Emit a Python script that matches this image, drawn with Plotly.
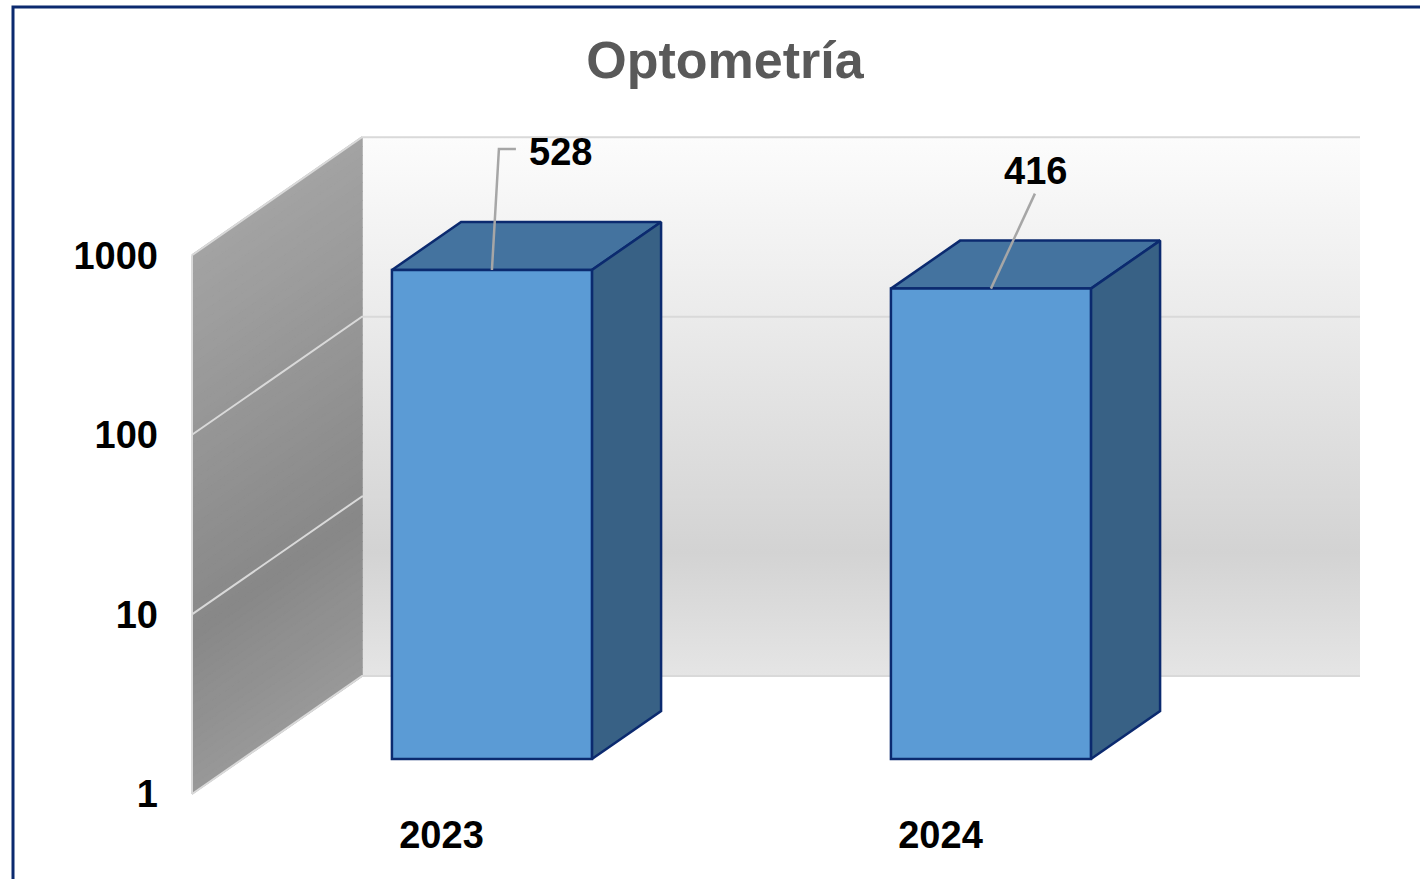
import math
import plotly.graph_objects as go
from plotly.colors import sample_colorscale

# Data
CATEGORIES = ["2023", "2024"]
VALUES = [528, 416]
Y_TICKS = [1, 10, 100, 1000]
TITLE = "Optometría"

# Fake 3D geometry, all in pixels of the 1420x879 page
WIDTH, HEIGHT = 1420, 879
CATEGORY_PX = 499
DECADE_PX = 179.6
DEPTH_X = 170
DEPTH_Y = 118
ORIGIN_X = 441.5  # first category on the front plane
ORIGIN_Y = 794  # value 1 on the front plane
BAR_FRONT = 35 / 118
BAR_BACK = 83 / 118
BAR_WIDTH = 200 / CATEGORY_PX

NAVY = "#0B2A6F"
BAR_COLOR = "#5B9BD5"
TOP_COLOR = "#44739F"
SIDE_COLOR = "#386185"
GRID_COLOR = "#D9D9D9"
LEADER_COLOR = "#A6A6A6"
FONT = "Liberation Sans"


def project(i, value, depth):
    # Push a data point back into the chart, depth 0 = front, 1 = back wall
    return (
        i + depth * DEPTH_X / CATEGORY_PX,
        value * 10 ** (depth * DEPTH_Y / DECADE_PX),
    )


def polygon(points, **kwargs):
    return go.Scatter(
        x=[p[0] for p in points],
        y=[p[1] for p in points],
        mode="lines",
        hoverinfo="skip",
        showlegend=False,
        **kwargs,
    )


def x_range(origin):
    return [-origin / CATEGORY_PX, (WIDTH - origin) / CATEGORY_PX]


def y_range(origin):
    return [(origin - HEIGHT) / DECADE_PX, origin / DECADE_PX]


fig = go.Figure()

left, right = -0.5, len(CATEGORIES) - 0.5
low, high = Y_TICKS[0], Y_TICKS[-1]

# Back wall
fig.add_trace(polygon(
    [project(left, low, 1), project(right, low, 1), project(right, high, 1), project(left, high, 1)],
    fill="toself",
    fillgradient=dict(
        type="vertical",
        colorscale=[[0, "#E5E5E5"], [0.23, "#D3D3D3"], [0.67, "#EBEBEB"], [1, "#FCFCFC"]],
    ),
    line=dict(width=0),
))

# Left wall, stacked bands to get the shaded look
WALL_SCALE = [[0, "#989898"], [0.3, "#888888"], [1, "#A3A3A3"]]
N_BANDS = 60
wall_top = math.log10(high)
band_colors = sample_colorscale(WALL_SCALE, [(k + 0.5) / N_BANDS for k in range(N_BANDS)])
for k in range(N_BANDS):
    v0 = 10 ** (wall_top * k / N_BANDS)
    v1 = 10 ** (wall_top * (k + 1) / N_BANDS)
    fig.add_trace(polygon(
        [project(left, v0, 0), project(left, v0, 1), project(left, v1, 1), project(left, v1, 0)],
        fill="toself",
        fillcolor=band_colors[k],
        line=dict(width=1.5, color=band_colors[k]),
    ))

# Grid lines running along both walls
for tick in Y_TICKS:
    fig.add_trace(polygon(
        [project(left, tick, 0), project(left, tick, 1), project(right, tick, 1)],
        line=dict(width=2, color=GRID_COLOR),
    ))
fig.add_trace(polygon(
    [project(left, low, 0), project(left, high, 0)],
    line=dict(width=2, color=GRID_COLOR),
))

# Top and side faces of the bars
for i, value in enumerate(VALUES):
    x0, x1 = i - BAR_WIDTH / 2, i + BAR_WIDTH / 2
    fig.add_trace(polygon(
        [project(x0, value, BAR_FRONT), project(x1, value, BAR_FRONT),
         project(x1, value, BAR_BACK), project(x0, value, BAR_BACK), project(x0, value, BAR_FRONT)],
        fill="toself",
        fillcolor=TOP_COLOR,
        line=dict(width=2.5, color=NAVY),
    ))
    fig.add_trace(polygon(
        [project(x1, low, BAR_FRONT), project(x1, low, BAR_BACK),
         project(x1, value, BAR_BACK), project(x1, value, BAR_FRONT), project(x1, low, BAR_FRONT)],
        fill="toself",
        fillcolor=SIDE_COLOR,
        line=dict(width=2.5, color=NAVY),
    ))

# Front faces. On a log axis plotly adds base + size linearly, hence the -1
fig.add_trace(go.Bar(
    x=list(range(len(CATEGORIES))),
    y=[v - low for v in VALUES],
    base=low,
    width=BAR_WIDTH,
    marker=dict(color=BAR_COLOR, line=dict(color=NAVY, width=2.5)),
    customdata=VALUES,
    hovertemplate="%{customdata}<extra></extra>",
    showlegend=False,
    xaxis="x2",
    yaxis="y2",
))

# Leader lines and data labels, offsets in pixels from the top of the bar
LABEL_OFFSETS = [(69, 118), (45, 118)]
LEADER_POINTS = [[(0, 0), (7, 121), (24, 121)], [(0, 0), (44, 95)]]
for i, value in enumerate(VALUES):
    pts = LEADER_POINTS[i]
    fig.add_trace(go.Scatter(
        x=[i + p[0] / CATEGORY_PX for p in pts],
        y=[value * 10 ** (p[1] / DECADE_PX) for p in pts],
        mode="lines",
        line=dict(color=LEADER_COLOR, width=2.5),
        hoverinfo="skip",
        showlegend=False,
        xaxis="x2",
        yaxis="y2",
    ))
    fig.add_annotation(
        x=i,
        y=math.log10(value),
        xref="x2",
        yref="y2",
        xshift=LABEL_OFFSETS[i][0],
        yshift=LABEL_OFFSETS[i][1],
        text=f"<b>{value}</b>",
        showarrow=False,
        font=dict(family=FONT, size=38, color="#000000"),
    )

bar_x = ORIGIN_X + BAR_FRONT * DEPTH_X
bar_y = ORIGIN_Y - BAR_FRONT * DEPTH_Y

fig.update_layout(
    width=WIDTH,
    height=HEIGHT,
    margin=dict(l=0, r=0, t=0, b=0),
    paper_bgcolor="white",
    plot_bgcolor="rgba(0,0,0,0)",
    showlegend=False,
    title=dict(
        text=f"<b>{TITLE}</b>",
        x=725 / WIDTH,
        xanchor="center",
        y=1 - 60 / HEIGHT,
        yanchor="middle",
        font=dict(family=FONT, size=52, color="#595959"),
    ),
    xaxis=dict(
        domain=[0, 1],
        range=x_range(ORIGIN_X),
        tickmode="array",
        tickvals=list(range(len(CATEGORIES))),
        ticktext=[f"<b>{c}</b>" for c in CATEGORIES],
        tickfont=dict(family=FONT, size=38, color="#000000"),
        anchor="free",
        position=1 - ORIGIN_Y / HEIGHT,
        side="bottom",
        ticks="",
        ticklabelstandoff=15,
        showgrid=False,
        zeroline=False,
        showline=False,
    ),
    yaxis=dict(
        type="log",
        domain=[0, 1],
        range=y_range(ORIGIN_Y),
        tickmode="array",
        tickvals=Y_TICKS,
        ticktext=[f"<b>{t}</b>" for t in Y_TICKS],
        tickfont=dict(family=FONT, size=38, color="#000000"),
        anchor="free",
        position=192 / WIDTH,
        side="left",
        ticks="",
        ticklabelstandoff=34,
        showgrid=False,
        zeroline=False,
        showline=False,
    ),
    xaxis2=dict(
        domain=[0, 1],
        range=x_range(bar_x),
        overlaying="x",
        visible=False,
    ),
    yaxis2=dict(
        type="log",
        domain=[0, 1],
        range=y_range(bar_y),
        overlaying="y",
        visible=False,
    ),
    # chart frame, runs off the right and bottom of the picture
    shapes=[dict(
        type="rect",
        xref="paper",
        yref="paper",
        x0=13 / WIDTH,
        y0=-0.02,
        x1=1.02,
        y1=1 - 7 / HEIGHT,
        line=dict(color=NAVY, width=3),
        fillcolor="rgba(0,0,0,0)",
        layer="below",
    )],
)

fig.write_html(
    "out.html",
    config={"displayModeBar": False},
    post_script="document.body.style.margin = '0';",
)
